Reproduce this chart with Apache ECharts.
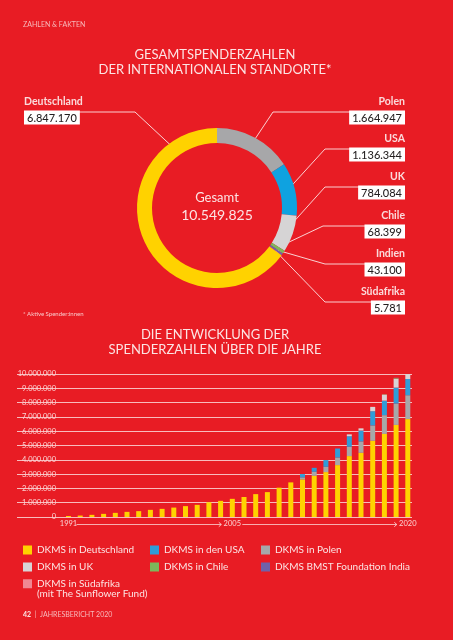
<!DOCTYPE html>
<html><head><meta charset="utf-8">
<script src="https://cdn.jsdelivr.net/npm/echarts/dist/echarts.min.js"></script>
<style>html,body{margin:0;padding:0;background:#E81C24;}#c{width:453px;height:640px;}</style>
</head><body><div id="c"></div>
<script>
// ---- Donut data ----
const donutNames = ['Polen', 'USA', 'UK', 'Chile', 'Indien', 'Südafrika', 'Deutschland'];
const donutValues = [1664947, 1136344, 784084, 68399, 43100, 5781, 6847170];
const donutColors = ['#A7A7A9', '#0FA2E0', '#D6D4D5', '#7CB85B', '#7061A8', '#F28B96', '#FFD200'];

// ---- Bar chart data ----
const years = ['1991','1992','1993','1994','1995','1996','1997','1998','1999','2000',
  '2001','2002','2003','2004','2005','2006','2007','2008','2009','2010',
  '2011','2012','2013','2014','2015','2016','2017','2018','2019','2020'];
const yTicks = [0, 1000000, 2000000, 3000000, 4000000, 5000000, 6000000, 7000000, 8000000, 9000000, 10000000];
const seriesNames = ['DKMS in Deutschland', 'DKMS in Polen', 'DKMS in den USA', 'DKMS in UK', 'DKMS in Chile', 'DKMS BMST Foundation India', 'DKMS in Südafrika'];
const valDE = [70000, 100000, 150000, 220000, 290000, 360000, 410000, 500000, 570000, 660000,
  760000, 850000, 1030000, 1130000, 1270000, 1400000, 1600000, 1740000, 2050000, 2420000,
  2630000, 2880000, 3140000, 3630000, 4260000, 4490000, 5330000, 5810000, 6440000, 6847170];
const valPL = [0,0,0,0,0,0,0,0,0,0, 0,0,0,0,0,0,0,0,0,0,
  140000, 280000, 370000, 530000, 650000, 790000, 1070000, 1310000, 1490000, 1664947];
const valUSA = [0,0,0,0,0,0,0,0,0,0, 0,0,0,0,0,0,0,0,0,0,
  230000, 280000, 470000, 630000, 740000, 770000, 1000000, 1020000, 1120000, 1136344];
const valUK = [0,0,0,0,0,0,0,0,0,0, 0,0,0,0,0,0,0,0,0,0,
  0, 0, 0, 0, 130000, 150000, 300000, 420000, 620000, 784084];
const valCL = [0,0,0,0,0,0,0,0,0,0, 0,0,0,0,0,0,0,0,0,0,
  0, 0, 0, 0, 0, 0, 0, 20000, 45000, 68399];
const valIN = [0,0,0,0,0,0,0,0,0,0, 0,0,0,0,0,0,0,0,0,0,
  0, 0, 0, 0, 0, 0, 0, 0, 20000, 43100];
const valZA = [0,0,0,0,0,0,0,0,0,0, 0,0,0,0,0,0,0,0,0,0,
  0, 0, 0, 0, 0, 0, 3000, 4000, 5000, 5781];
const seriesValues = [valDE, valPL, valUSA, valUK, valCL, valIN, valZA];
const seriesColors = ['#FFD200', '#A7A7A9', '#2F9CD8', '#D8D4D6', '#7CB85B', '#7061A8', '#F08792'];
const xLabelYears = ['1991', '2005', '2020'];

// ---- helpers / layout ----
const FONT = 'Lato, "Open Sans", sans-serif';
const fmt = n => String(n).replace(/\B(?=(\d{3})+(?!\d))/g, '.');
const CX = 217, CY = 208;
const total = donutValues.reduce((a, b) => a + b, 0);
const mids = []; let acc = 0;
donutValues.forEach(v => { mids.push((acc + v / 2) / total * 360); acc += v; });
const labelLayoutCfg = [
  { x: 405, y: 92, align: 'right', elbow: [273, 112], endX: 398 },
  { x: 405, y: 129, align: 'right', elbow: [325, 149], endX: 398 },
  { x: 405, y: 167, align: 'right', elbow: [325, 187], endX: 398 },
  { x: 405, y: 206, align: 'right', elbow: [323, 226], endX: 398 },
  { x: 405, y: 244, align: 'right', elbow: [325, 264], endX: 398 },
  { x: 405, y: 282, align: 'right', elbow: [325, 302], endX: 398 },
  { x: 24, y: 92, align: 'left', elbow: [135, 112], endX: 40, angle: 324, r: 75 }
];
function ringPoint(i) {
  const c = labelLayoutCfg[i];
  const a = (c.angle != null ? c.angle : mids[i]) * Math.PI / 180;
  const r = c.r || 72;
  return [CX + r * Math.sin(a), CY - r * Math.cos(a)];
}

const chart = echarts.init(document.getElementById('c'), null, { renderer: 'canvas' });
const legendCommon = {
  orient: 'vertical', itemWidth: 9, itemHeight: 9, itemGap: 5, icon: 'rect', padding: 0,
  selectedMode: false,
  textStyle: { color: '#FCE4E4', fontSize: 10, lineHeight: 12, fontFamily: FONT }
};

const option = {
  backgroundColor: '#E81C24',
  animation: false,
  textStyle: { fontFamily: FONT },
  grid: [
    { left: 17, right: 41, top: 374, height: 143 },
    { left: 62.65, right: 39.35, top: 374, height: 143 }
  ],
  xAxis: [
    { gridIndex: 0, type: 'value', show: false, min: 0, max: 1 },
    { gridIndex: 1, type: 'category', data: years,
      axisLine: { show: false }, axisTick: { show: false },
      axisLabel: { interval: (i, v) => xLabelYears.indexOf(v) >= 0, margin: 3,
        fontSize: 7.5, color: '#FBD3D3', fontFamily: FONT } }
  ],
  yAxis: [
    { gridIndex: 0, type: 'value', min: yTicks[0], max: yTicks[yTicks.length - 1], interval: yTicks[1] - yTicks[0],
      axisLine: { show: false }, axisTick: { show: false },
      splitLine: { show: true, lineStyle: { color: 'rgba(255,255,255,0.7)', width: 1 } },
      axisLabel: { inside: true, margin: 39, align: 'right', verticalAlign: 'middle', padding: [0, 0, 6, 0],
        fontSize: 7.5, color: '#FBD3D3', fontFamily: FONT, formatter: v => fmt(v) } },
    { gridIndex: 1, type: 'value', min: yTicks[0], max: yTicks[yTicks.length - 1], show: false, splitLine: { show: false } }
  ],
  legend: [
    Object.assign({}, legendCommon, { left: 23, top: 544, data: ['DKMS in Deutschland', 'DKMS in UK'] }),
    Object.assign({}, legendCommon, { left: 150, top: 544, data: ['DKMS in den USA', 'DKMS in Chile'] }),
    Object.assign({}, legendCommon, { left: 261, top: 544, data: ['DKMS in Polen', 'DKMS BMST Foundation India'] }),
    Object.assign({}, legendCommon, { left: 23, top: 568, data: ['DKMS in Südafrika'],
      formatter: n => ' \n' + n + '\n(mit The Sunflower Fund)',
      textStyle: { color: '#FCE4E4', fontSize: 10, lineHeight: 10.5, fontFamily: FONT } })
  ],
  series: seriesNames.map((n, i) => ({
    name: n, type: 'bar', stack: 'total', xAxisIndex: 1, yAxisIndex: 1,
    barWidth: 5, silent: true,
    itemStyle: { color: seriesColors[i] },
    data: seriesValues[i]
  })).concat([{
    type: 'pie', center: [CX, CY], radius: [65, 80], startAngle: 90, clockwise: true,
    avoidLabelOverlap: false, silent: true,
    data: donutNames.map((n, i) => ({ name: n, value: donutValues[i], itemStyle: { color: donutColors[i] } })),
    label: {
      show: true, fontFamily: FONT,
      formatter: p => '{n|' + p.name + '}\n{v|' + fmt(p.value) + '}',
      rich: {
        n: { fontSize: 10.5, fontWeight: 'bold', color: '#FBDADB', lineHeight: 20, fontFamily: FONT },
        v: { fontSize: 11, color: '#231F20', backgroundColor: '#fff', padding: [2, 3, 1, 3], lineHeight: 11, fontFamily: FONT, fontWeight: 500 }
      }
    },
    labelLine: { show: true, lineStyle: { color: '#fff', width: 0.8 } },
    labelLayout: function (params) {
      const i = params.dataIndex;
      const c = labelLayoutCfg[i];
      return {
        x: c.x, y: c.y, align: c.align, verticalAlign: 'top',
        labelLinePoints: [ringPoint(i), c.elbow, [c.endX, c.elbow[1]]]
      };
    }
  }])
};
chart.setOption(option);

// static texts + axis arrows
const xp = y => chart.convertToPixel({ xAxisIndex: 1 }, y);
const ay = 524.5;
function arrow(x1, x2) {
  return [
    { type: 'polyline', shape: { points: [[x1, ay], [x2, ay]] }, style: { stroke: '#FBD3D3', lineWidth: 0.8, fill: null } },
    { type: 'polyline', shape: { points: [[x2 - 2.5, ay - 2.2], [x2, ay], [x2 - 2.5, ay + 2.2]] }, style: { stroke: '#FBD3D3', lineWidth: 0.9, fill: null } }
  ];
}
const txt = (text, x, y, size, extra) => ({
  type: 'text', x: x, y: y,
  style: Object.assign({ text: text, fill: '#FCE4E4', fontSize: size, fontFamily: FONT, align: 'left', verticalAlign: 'middle' }, extra || {})
});
const graphics = [
  txt('ZAHLEN & FAKTEN', 23, 25, 7, { fill: '#F7B9BB' }),
  txt('GESAMTSPENDERZAHLEN\nDER INTERNATIONALEN STANDORTE*', 215, 47.5, 13, { align: 'center', verticalAlign: 'top', lineHeight: 15 }),
  txt('Gesamt', CX, 198, 13, { align: 'center' }),
  txt(fmt(total), CX, 215, 14, { align: 'center' }),
  txt('* Aktive Spender:innen', 23, 314, 6, { fill: '#F9C9CB' }),
  txt('DIE ENTWICKLUNG DER\nSPENDERZAHLEN ÜBER DIE JAHRE', 215, 327.5, 13, { align: 'center', verticalAlign: 'top', lineHeight: 15 }),
  txt('{b|42}  |  JAHRESBERICHT 2020', 23, 615, 7, { fill: '#F7B9BB', rich: { b: { fontWeight: 'bold', fontSize: 7, fill: '#FCE4E4', fontFamily: FONT } } })
].concat(arrow(xp('1991') + 8, xp('2005') - 11), arrow(xp('2005') + 10, xp('2020') - 11));
chart.setOption({ graphic: graphics });
</script>
</body></html>
